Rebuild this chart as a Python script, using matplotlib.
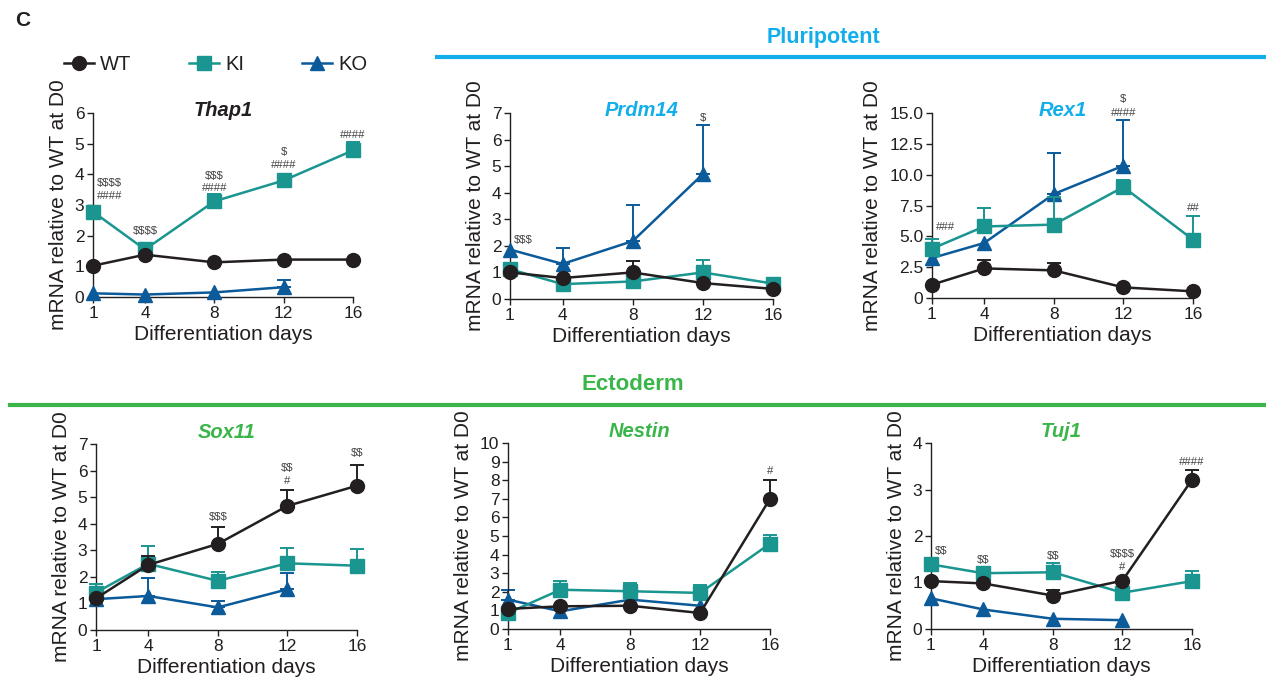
import numpy as np
import matplotlib
matplotlib.use("Agg")
import matplotlib.pyplot as plt
from matplotlib.lines import Line2D

plt.rcParams['font.family'] = ['Liberation Sans', 'DejaVu Sans']

nan = np.nan
days = [1, 4, 8, 12, 16]
series_names = ["WT", "KI", "KO"]

# ---- Thap1 ----
thap1_wt = [1.02, 1.38, 1.13, 1.22, 1.22]
thap1_ki = [2.78, 1.55, 3.12, 3.80, 4.78]
thap1_ko = [0.12, 0.08, 0.15, 0.32, nan]
thap1_wt_err = [0, 0, 0, 0, 0]
thap1_ki_err = [0, 0, 0.23, 0.05, 0.28]
thap1_ko_err = [0, 0, 0, 0.22, nan]

# ---- Prdm14 ----
prdm14_wt = [1.00, 0.79, 1.00, 0.60, 0.38]
prdm14_ki = [1.12, 0.56, 0.66, 1.00, 0.58]
prdm14_ko = [1.86, 1.32, 2.18, 4.70, nan]
prdm14_wt_err = [0, 0, 0.42, 0, 0]
prdm14_ki_err = [0, 0, 0, 0.48, 0]
prdm14_ko_err = [0, 0.60, 1.37, 1.84, nan]

# ---- Rex1 ----
rex1_wt = [1.08, 2.40, 2.24, 0.86, 0.54]
rex1_ki = [4.00, 5.80, 5.95, 9.00, 4.73]
rex1_ko = [3.24, 4.46, 8.43, 10.73, nan]
rex1_wt_err = [0, 0.70, 0.60, 0, 0]
rex1_ki_err = [0.80, 1.50, 2.20, 0.60, 1.89]
rex1_ko_err = [0, 0, 3.30, 3.73, nan]

# ---- Sox11 ----
sox11_wt = [1.19, 2.45, 3.24, 4.67, 5.43]
sox11_ki = [1.41, 2.49, 1.85, 2.51, 2.42]
sox11_ko = [1.16, 1.28, 0.85, 1.53, nan]
sox11_wt_err = [0, 0.35, 0.62, 0.61, 0.79]
sox11_ki_err = [0.31, 0.68, 0.32, 0.57, 0.63]
sox11_ko_err = [0, 0.67, 0.24, 0.63, nan]

# ---- Nestin ----
nestin_wt = [1.08, 1.22, 1.25, 0.86, 7.00]
nestin_ki = [0.86, 2.11, 2.03, 1.94, 4.59]
nestin_ko = [1.58, 0.95, 1.58, 1.25, nan]
nestin_wt_err = [0, 0, 0, 0, 1.03]
nestin_ki_err = [0, 0.45, 0.46, 0.44, 0.48]
nestin_ko_err = [0.50, 0, 0, 0, nan]

# ---- Tuj1 ----
tuj1_wt = [1.03, 0.98, 0.72, 1.04, 3.21]
tuj1_ki = [1.39, 1.20, 1.22, 0.78, 1.03]
tuj1_ko = [0.66, 0.42, 0.22, 0.19, nan]
tuj1_wt_err = [0, 0, 0.12, 0, 0.22]
tuj1_ki_err = [0, 0, 0.19, 0, 0.21]
tuj1_ko_err = [0, 0, 0, 0, nan]

# significance labels: (day, y, text)
thap1_sig = [(1, 3.73, "$$$$"), (1, 3.28, "####"), (4, 2.14, "$$$$"),
             (8, 3.96, "$$$"), (8, 3.57, "####"), (12, 4.74, "$"),
             (12, 4.32, "####"), (16, 5.29, "####")]
prdm14_sig = [(1, 2.22, "$$$"), (12, 6.81, "$")]
rex1_sig = [(1, 5.73, "###"), (12, 16.1, "$"), (12, 15.0, "####"), (16, 7.3, "##")]
sox11_sig = [(8, 4.25, "$$$"), (12, 6.09, "$$"), (12, 5.59, "#"), (16, 6.66, "$$")]
nestin_sig = [(16, 8.51, "#")]
tuj1_sig = [(1, 1.67, "$$"), (4, 1.49, "$$"), (8, 1.58, "$$"), (12, 1.62, "$$$$"),
            (12, 1.34, "#"), (16, 3.60, "####")]

panel_titles = ["Thap1", "Prdm14", "Rex1", "Sox11", "Nestin", "Tuj1"]
ylabel = "mRNA relative to WT at D0"
xlabel = "Differentiation days"

colors = {"WT": "#231F20", "KI": "#1A958F", "KO": "#0B5A9A"}
markers = {"WT": "o", "KI": "s", "KO": "^"}
msize = {"WT": 10, "KI": 9.5, "KO": 10}
BLACK = "#231F20"
CYAN = "#12AEEB"
GREEN = "#3AB54A"

panels = [
    dict(title="Thap1", tcolor=BLACK, data=(thap1_wt, thap1_ki, thap1_ko),
         err=(thap1_wt_err, thap1_ki_err, thap1_ko_err), sig=thap1_sig,
         ymax=6, yticks=[0, 1, 2, 3, 4, 5, 6], ylabels=None,
         rect=(93, 113, 353, 297), ty=1.015),
    dict(title="Prdm14", tcolor=CYAN, data=(prdm14_wt, prdm14_ki, prdm14_ko),
         err=(prdm14_wt_err, prdm14_ki_err, prdm14_ko_err), sig=prdm14_sig,
         ymax=7, yticks=[0, 1, 2, 3, 4, 5, 6, 7], ylabels=None,
         rect=(510, 113, 773, 299), ty=1.015),
    dict(title="Rex1", tcolor=CYAN, data=(rex1_wt, rex1_ki, rex1_ko),
         err=(rex1_wt_err, rex1_ki_err, rex1_ko_err), sig=rex1_sig,
         ymax=15, yticks=[0, 2.5, 5, 7.5, 10, 12.5, 15],
         ylabels=["0", "2.5", "5.0", "7.5", "10.0", "12.5", "15.0"],
         rect=(932, 113, 1193, 298), ty=1.015),
    dict(title="Sox11", tcolor=GREEN, data=(sox11_wt, sox11_ki, sox11_ko),
         err=(sox11_wt_err, sox11_ki_err, sox11_ko_err), sig=sox11_sig,
         ymax=7, yticks=[0, 1, 2, 3, 4, 5, 6, 7], ylabels=None,
         rect=(96, 444, 357, 630), ty=1.06),
    dict(title="Nestin", tcolor=GREEN, data=(nestin_wt, nestin_ki, nestin_ko),
         err=(nestin_wt_err, nestin_ki_err, nestin_ko_err), sig=nestin_sig,
         ymax=10, yticks=list(range(0, 11)), ylabels=None,
         rect=(508, 443, 770, 629), ty=1.06),
    dict(title="Tuj1", tcolor=GREEN, data=(tuj1_wt, tuj1_ki, tuj1_ko),
         err=(tuj1_wt_err, tuj1_ki_err, tuj1_ko_err), sig=tuj1_sig,
         ymax=4, yticks=[0, 1, 2, 3, 4], ylabels=None,
         rect=(931, 443, 1192, 629), ty=1.06),
]

W, H = 1266, 680
fig = plt.figure(figsize=(W / 100, H / 100), dpi=100)

for p in panels:
    x0, y0, x1, y1 = p["rect"]
    ax = fig.add_axes([x0 / W, 1 - y1 / H, (x1 - x0) / W, (y1 - y0) / H])
    x = np.array(days, dtype=float)
    # draw KO, then KI, then WT on top
    for idx in [2, 1, 0]:
        name = series_names[idx]
        y = np.array(p["data"][idx], dtype=float)
        e = np.array(p["err"][idx], dtype=float)
        c = colors[name]
        m = (~np.isnan(y)) & (~np.isnan(e)) & (e > 0)
        if m.any():
            ax.errorbar(x[m], y[m], yerr=[np.zeros(m.sum()), e[m]], fmt='none',
                        ecolor=c, elinewidth=1.4, capsize=5, capthick=1.4,
                        clip_on=False, zorder=2 + (2 - idx) * 2)
        ok = ~np.isnan(y)
        ax.plot(x[ok], y[ok], color=c, lw=1.8, marker=markers[name],
                ms=msize[name], mfc=c, mec=c, clip_on=False,
                zorder=3 + (2 - idx) * 2)
    ax.set_xlim(1, 16)
    ax.set_ylim(0, p["ymax"])
    ax.set_xticks(days)
    ax.set_xticklabels([str(d) for d in days])
    ax.set_yticks(p["yticks"])
    if p["ylabels"] is not None:
        ax.set_yticklabels(p["ylabels"])
    for s in ["top", "right"]:
        ax.spines[s].set_visible(False)
    for s in ["left", "bottom"]:
        ax.spines[s].set_color(BLACK)
        ax.spines[s].set_linewidth(1.0)
    ax.tick_params(direction='out', length=4.2, width=1.0, color=BLACK,
                   labelsize=12.5, labelcolor=BLACK, pad=2)
    ax.set_xlabel(xlabel, fontsize=15, color=BLACK, labelpad=3)
    ax.set_ylabel(ylabel, fontsize=15, color=BLACK, labelpad=5)
    ax.text(0.5, p["ty"], p["title"], transform=ax.transAxes, ha='center',
            va='center', fontsize=14.5, fontweight='bold', fontstyle='italic',
            color=p["tcolor"])
    for (d, yy, t) in p["sig"]:
        if d == 1:
            xx, ha = d + 0.2, 'left'
        else:
            xx, ha = d, 'center'
        ax.text(xx, yy, t, ha=ha, va='center', fontsize=8.2, color="#444444",
                clip_on=False, parse_math=False)

# panel letter
fig.text(15 / W, 1 - 20 / H, "C", fontsize=15, fontweight='bold', color=BLACK,
         ha='left', va='center')

# group headers
fig.text(823 / W, 1 - 37 / H, "Pluripotent", fontsize=15.5, fontweight='bold',
         color=CYAN, ha='center', va='center')
fig.add_artist(Line2D([437 / W, 1.0], [1 - 57 / H, 1 - 57 / H], color=CYAN,
                      lw=3, transform=fig.transFigure))
fig.text(633 / W, 1 - 385 / H, "Ectoderm", fontsize=16, fontweight='bold',
         color=GREEN, ha='center', va='center')
fig.add_artist(Line2D([10 / W, 1.0], [1 - 405 / H, 1 - 405 / H], color=GREEN,
                      lw=3, transform=fig.transFigure))

# legend
handles = [Line2D([], [], color=colors[n], lw=1.8, marker=markers[n],
                  ms=msize[n], mfc=colors[n], mec=colors[n]) for n in series_names]
fig.legend(handles, series_names, loc='center left',
           bbox_to_anchor=(64 / W, 1 - 65 / H), ncol=3, frameon=False,
           fontsize=14.5, handlelength=1.5, handletextpad=0.3, columnspacing=2.85,
           borderpad=0, borderaxespad=0, labelcolor=BLACK)

fig.savefig("out.png", dpi=100)
